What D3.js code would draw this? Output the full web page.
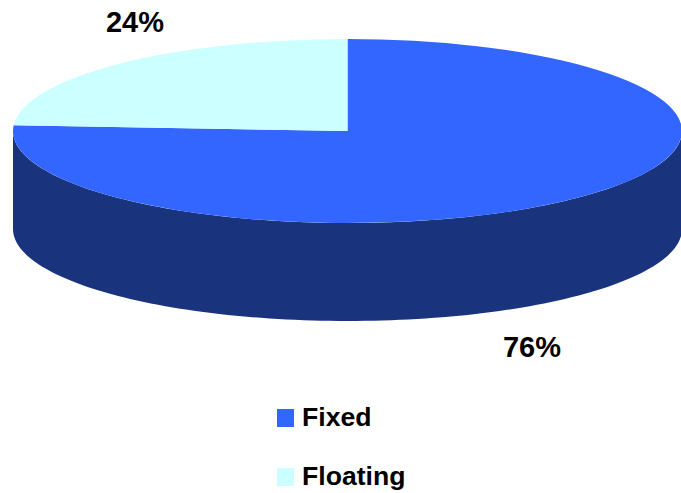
<!DOCTYPE html>
<html>
<head>
<meta charset="utf-8">
<script src="https://cdn.jsdelivr.net/npm/d3@7"></script>
<style>
  html, body { margin: 0; padding: 0; background: #fff; }
  svg { display: block; font-family: "Liberation Sans", Arial, sans-serif; }
</style>
</head>
<body>
<svg id="chart" width="681" height="493"></svg>
<script>
// Share of debt by rate type
const categories = ["Fixed", "Floating"];
const values = [76, 24];
const labels = ["76%", "24%"];
const topColors = ["#3366FF", "#CCFFFF"];
const sideColors = ["#19337D", "#8CB3B3"];

const svg = d3.select("#chart");

// Tilted disc geometry
const cx = 347.5, cy = 131, rx = 334.5, ry = 92, depth = 98;

const pie = d3.pie().sort(null).value(d => d).startAngle(0).endAngle(2 * Math.PI);
const arcs = pie(values);

// Project an angle (clockwise from 12 o'clock) onto the ellipse
const px = a => cx + rx * Math.sin(a);
const py = a => cy - ry * Math.cos(a);

// Side walls: only the front half (angles between PI/2 and 3PI/2) is visible
const sideG = svg.append("g");
arcs.forEach((d, i) => {
  const a0 = Math.max(d.startAngle, Math.PI / 2);
  const a1 = Math.min(d.endAngle, 3 * Math.PI / 2);
  if (a1 <= a0) return;
  const steps = d3.range(0, 121).map(k => a0 + (a1 - a0) * k / 120);
  const p = d3.path();
  steps.forEach((a, k) => k === 0 ? p.moveTo(px(a), py(a)) : p.lineTo(px(a), py(a)));
  steps.slice().reverse().forEach(a => p.lineTo(px(a), py(a) + depth));
  p.closePath();
  sideG.append("path").attr("d", p.toString()).attr("fill", sideColors[i]);
});

// Top faces via d3.arc, flattened into an ellipse
const arcGen = d3.arc().innerRadius(0).outerRadius(rx);
svg.append("g")
  .attr("transform", `translate(${cx},${cy}) scale(1,${ry / rx})`)
  .selectAll("path")
  .data(arcs)
  .join("path")
  .attr("d", arcGen)
  .attr("fill", (d, i) => topColors[i]);

// Percentage labels
const labelPos = [[532, 357], [135, 32]];
svg.append("g")
  .selectAll("text")
  .data(labels)
  .join("text")
  .attr("x", (d, i) => labelPos[i][0])
  .attr("y", (d, i) => labelPos[i][1])
  .attr("text-anchor", "middle")
  .attr("font-size", 29)
  .attr("font-weight", "bold")
  .attr("fill", "#000")
  .text(d => d);

// Legend
const legend = svg.append("g").attr("transform", "translate(277,0)");
const legendY = [409, 468];
categories.forEach((c, i) => {
  legend.append("rect")
    .attr("x", 0).attr("y", legendY[i])
    .attr("width", 17).attr("height", 18)
    .attr("fill", topColors[i]);
  legend.append("text")
    .attr("x", 25).attr("y", legendY[i] + 17)
    .attr("font-size", 26.6)
    .attr("font-weight", "bold")
    .attr("fill", "#000")
    .text(c);
});
</script>
</body>
</html>
